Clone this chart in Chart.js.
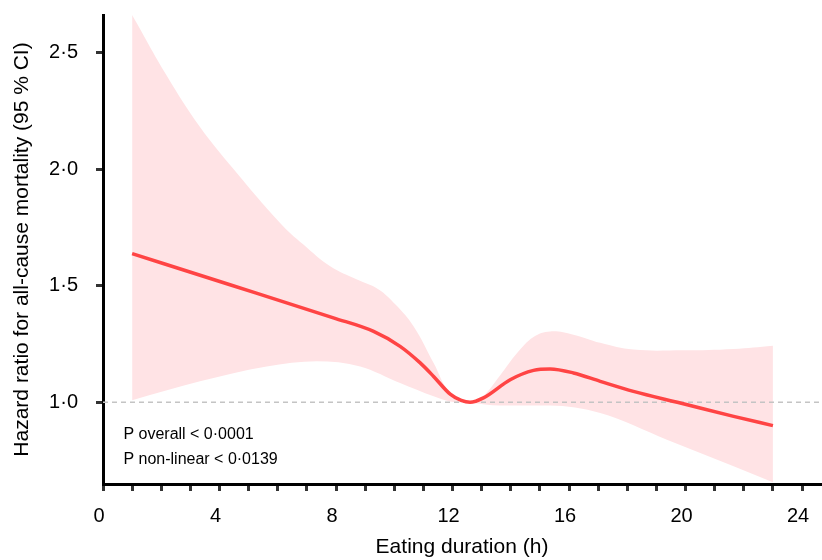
<!DOCTYPE html>
<html lang="en">
<head>
<meta charset="UTF-8">
<title>Eating duration and all-cause mortality</title>
<script src="https://cdn.jsdelivr.net/npm/chart.js"></script>
<style>
  body { margin: 0; background: #fff; }
  #wrap { width: 822px; height: 560px; }
</style>
</head>
<body>
<div id="wrap"><canvas id="hrChart"></canvas></div>
<script>
// Data
const hrX = [1.0, 4.36, 7.91, 9.29, 10.2, 10.89, 11.35, 11.92, 12.3, 12.6, 13.06, 13.98, 14.78, 15.35, 16.15, 17.07, 18.21, 19.82, 21.65, 23.0];
const hrY = [1.637, 1.504, 1.362, 1.304, 1.24, 1.169, 1.111, 1.035, 1.008, 1.0, 1.019, 1.097, 1.137, 1.143, 1.126, 1.09, 1.047, 0.997, 0.94, 0.90];

const upperX = [1.0, 2.19, 3.33, 4.48, 6.08, 6.88, 7.80, 8.72, 9.45, 10.05, 10.66, 11.35, 11.92, 12.6, 13.0, 13.63, 14.21, 14.78, 15.35, 16.15, 17.07, 18.21, 19.93, 21.65, 23.0];
const upperY = [2.66, 2.40, 2.18, 2.00, 1.769, 1.676, 1.583, 1.526, 1.485, 1.418, 1.326, 1.169, 1.04, 1.0, 1.02, 1.115, 1.21, 1.28, 1.304, 1.29, 1.255, 1.226, 1.223, 1.229, 1.243];

const lowerX = [1.0, 3.33, 5.62, 7.34, 8.83, 10.2, 11.35, 11.92, 12.6, 13.63, 15.35, 17.07, 19.36, 21.65, 23.0];
const lowerY = [1.009, 1.09, 1.154, 1.176, 1.154, 1.083, 1.026, 1.004, 0.998, 0.986, 0.986, 0.954, 0.84, 0.726, 0.657];

const refX = [0, 24.65];
const refY = [1.0, 1.0];

const xTicks = [0, 1, 2, 3, 4, 5, 6, 7, 8, 9, 10, 11, 12, 13, 14, 15, 16, 17, 18, 19, 20, 21, 22, 23, 24];
const yTicks = [1.0, 1.5, 2.0, 2.5];

const noteLines = ['P overall < 0\u00b70001', 'P non-linear < 0\u00b70139'];

const toPts = (xs, ys) => xs.map((v, i) => ({ x: v, y: ys[i] }));
const FONT = 'Arial, "Liberation Sans", sans-serif';

// P-value text in the lower left of the plot
const notePlugin = {
  id: 'notes',
  afterDatasetsDraw(chart) {
    const { ctx, scales: { x, y } } = chart;
    ctx.save();
    ctx.font = '16px ' + FONT;
    ctx.fillStyle = '#000';
    ctx.textBaseline = 'middle';
    ctx.textAlign = 'left';
    const px = x.getPixelForValue(0.7);
    ctx.fillText(noteLines[0], px, y.getPixelForValue(0.862));
    ctx.fillText(noteLines[1], px, y.getPixelForValue(0.754));
    ctx.restore();
  }
};

const axisGrid = {
  drawOnChartArea: false,
  drawTicks: true,
  tickLength: 7,
  tickWidth: 3,
  tickColor: '#333',
  color: '#333',
  lineWidth: 3
};

// fixed scale sizes, no extra label padding around the plot
function fixSize(prop, size) {
  return s => {
    s[prop] = size;
    s.paddingTop = 0; s.paddingBottom = 0;
    s.paddingLeft = 0; s.paddingRight = 0;
  };
}

new Chart(document.getElementById('hrChart'), {
  type: 'line',
  data: {
    datasets: [
      {
        label: 'HR',
        data: toPts(hrX, hrY),
        borderColor: '#ff4444',
        borderWidth: 3.5,
        pointRadius: 0,
        cubicInterpolationMode: 'monotone',
        fill: false,
        order: 0
      },
      {
        label: 'ref',
        data: toPts(refX, refY),
        borderColor: '#c4c4c4',
        borderWidth: 1.5,
        borderDash: [5, 4],
        pointRadius: 0,
        fill: false,
        order: 1
      },
      {
        label: 'upper',
        data: toPts(upperX, upperY),
        borderWidth: 0,
        borderColor: 'rgba(0,0,0,0)',
        backgroundColor: 'rgb(255, 227, 229)',
        pointRadius: 0,
        tension: 0.4,
        fill: '+1',
        order: 2
      },
      {
        label: 'lower',
        data: toPts(lowerX, lowerY),
        borderWidth: 0,
        borderColor: 'rgba(0,0,0,0)',
        pointRadius: 0,
        cubicInterpolationMode: 'monotone',
        fill: false,
        order: 3
      }
    ]
  },
  options: {
    responsive: true,
    maintainAspectRatio: false,
    animation: false,
    layout: { padding: { top: 15, right: 1, left: 0, bottom: 0 } },
    plugins: {
      legend: { display: false },
      tooltip: { enabled: false }
    },
    scales: {
      x: {
        type: 'linear',
        min: 0,
        max: 24.65,
        afterFit: fixSize('height', 76),
        afterBuildTicks: s => { s.ticks = xTicks.map(v => ({ value: v })); },
        border: { display: true, width: 3, color: '#000' },
        grid: axisGrid,
        ticks: {
          color: '#000',
          font: { family: FONT, size: 20 },
          padding: 13,
          labelOffset: -4,
          maxRotation: 0,
          autoSkip: false,
          callback: v => (v % 4 === 0 ? String(v) : '')
        },
        title: {
          display: true,
          text: 'Eating duration (h)',
          color: '#000',
          font: { family: FONT, size: 21 },
          padding: { top: 0, bottom: 0 }
        }
      },
      y: {
        type: 'linear',
        min: 0.65,
        max: 2.66,
        afterFit: fixSize('width', 103),
        afterBuildTicks: s => { s.ticks = yTicks.map(v => ({ value: v })); },
        border: { display: true, width: 3, color: '#000' },
        grid: axisGrid,
        ticks: {
          color: '#000',
          font: { family: FONT, size: 20 },
          padding: 18,
          callback: v => v.toFixed(1).replace('.', '\u00b7')
        },
        title: {
          display: true,
          text: 'Hazard ratio for all-cause mortality (95 % CI)',
          color: '#000',
          font: { family: FONT, size: 21 },
          padding: { top: 10, bottom: 0 }
        }
      }
    }
  },
  plugins: [notePlugin]
});
</script>
</body>
</html>
